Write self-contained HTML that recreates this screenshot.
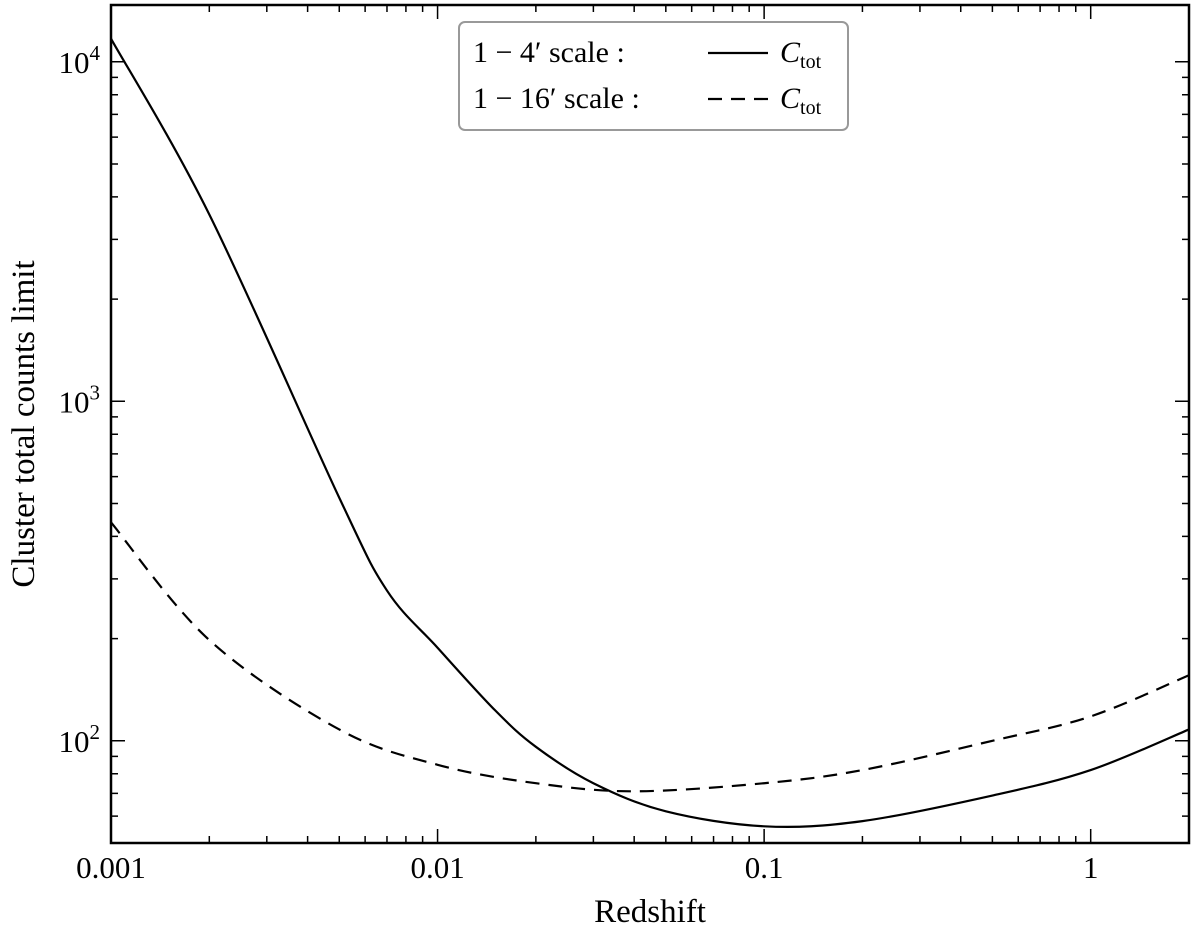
<!DOCTYPE html>
<html><head><meta charset="utf-8"><style>
body{margin:0;background:#fff}
svg text{font-family:"Liberation Serif",serif;fill:#000}
</style></head><body>
<svg id="c" width="1200" height="941" xmlns="http://www.w3.org/2000/svg"></svg>
<script>
const xs = [0.001,0.002,0.005,0.007,0.01,0.015,0.02,0.03,0.05,0.1,0.2,0.5,1,2];
const solidVals = [11700,3550,520,277,188,123,96,75,62,56,58,69,82,108];
const dashX = [0.001,0.002,0.005,0.01,0.02,0.04,0.1,0.2,0.5,1,2];
const dashVals = [440,198,108,85,75,71,75,82,100,118,156];
const xTicks = [0.001,0.01,0.1,1];
const xTickLabels = ["0.001","0.01","0.1","1"];
const yTicks = [100,1000,10000];
const yTickExp = ["2","3","4"];

const L=111,R=1189,T=5,B=843;
const xmin=Math.log10(0.001),xmax=Math.log10(2),ymin=Math.log10(50),ymax=Math.log10(14700);
const X=v=>L+(Math.log10(v)-xmin)/(xmax-xmin)*(R-L);
const Y=v=>B-(Math.log10(v)-ymin)/(ymax-ymin)*(B-T);
const svg=document.getElementById('c');const NS="http://www.w3.org/2000/svg";
function mk(t,a,p){const e=document.createElementNS(NS,t);for(const k in a)e.setAttribute(k,a[k]);(p||svg).appendChild(e);return e;}

for(let d=-3;d<=0;d++)for(let m=1;m<=9;m++){const v=m*Math.pow(10,d);if(v>2)continue;const x=X(v);const len=m===1?14:7;
 const t=mk('path',{d:`M${x},${B}V${B-len}M${x},${T}V${T+len}`,stroke:'#000','stroke-width':1.5});
 
 }
for(let d=1;d<=4;d++)for(let m=1;m<=9;m++){const v=m*Math.pow(10,d);if(v<50||v>14700)continue;const y=Y(v);const len=m===1?14:7;
 const t=mk('path',{d:`M${L},${y}H${L+len}M${R},${y}H${R-len}`,stroke:'#000','stroke-width':1.5});
 
 }
xTicks.forEach((v,i)=>{const t=mk('text',{x:X(v),y:878,'font-size':31,'text-anchor':'middle'});t.textContent=xTickLabels[i];
 
 });
yTicks.forEach((v,i)=>{const t=mk('text',{x:100,y:Y(v)+11,'font-size':31,'text-anchor':'end'});
 
 
 const a=mk('tspan',{},t);a.textContent='10';const b=mk('tspan',{dy:-13,'font-size':21},t);b.textContent=yTickExp[i];});

function path(xa,ya){const p=xa.map((x,i)=>[X(x),Y(ya[i])]);let d=`M${p[0][0]},${p[0][1]}`;
 for(let i=0;i<p.length-1;i++){const p0=p[Math.max(i-1,0)],p1=p[i],p2=p[i+1],p3=p[Math.min(i+2,p.length-1)];
 d+=`C${p1[0]+(p2[0]-p0[0])/6},${p1[1]+(p2[1]-p0[1])/6} ${p2[0]-(p3[0]-p1[0])/6},${p2[1]-(p3[1]-p1[1])/6} ${p2[0]},${p2[1]}`;}return d;}
const s=mk('path',{d:path(xs,solidVals),fill:'none',stroke:'#000','stroke-width':2.2});


const dl=mk('path',{d:path(dashX,dashVals),fill:'none',stroke:'#000','stroke-width':2.2,'stroke-dasharray':'14,9'});


</script>
<svg style="position:absolute;left:0;top:0" width="1200" height="941" xmlns="http://www.w3.org/2000/svg">
<rect x="111" y="5" width="1078" height="838" fill="none" stroke="#000" stroke-width="2.5"/>
<g>
<rect x="459" y="22" width="389" height="108" rx="6" fill="#fff" stroke="#999" stroke-width="2"/>
<text x="473" y="62" font-size="30">1 − 4′   scale :</text>
<line x1="708" y1="53" x2="768" y2="53" stroke="#000" stroke-width="2.2"/>
<text x="780" y="62" font-size="30"><tspan font-style="italic">C</tspan><tspan font-size="20" dy="6">tot</tspan></text>
<text x="473" y="108" font-size="30">1 − 16′ scale :</text>
<line x1="708" y1="99" x2="768" y2="99" stroke="#000" stroke-width="2.2" stroke-dasharray="14,9"/>
<text x="780" y="108" font-size="30"><tspan font-style="italic">C</tspan><tspan font-size="20" dy="6">tot</tspan></text>
</g>
<text x="650" y="922" font-size="33" text-anchor="middle">Redshift</text>
<text transform="translate(34,424) rotate(-90)" font-size="33" text-anchor="middle">Cluster total counts limit</text>
</svg>
</body></html>
